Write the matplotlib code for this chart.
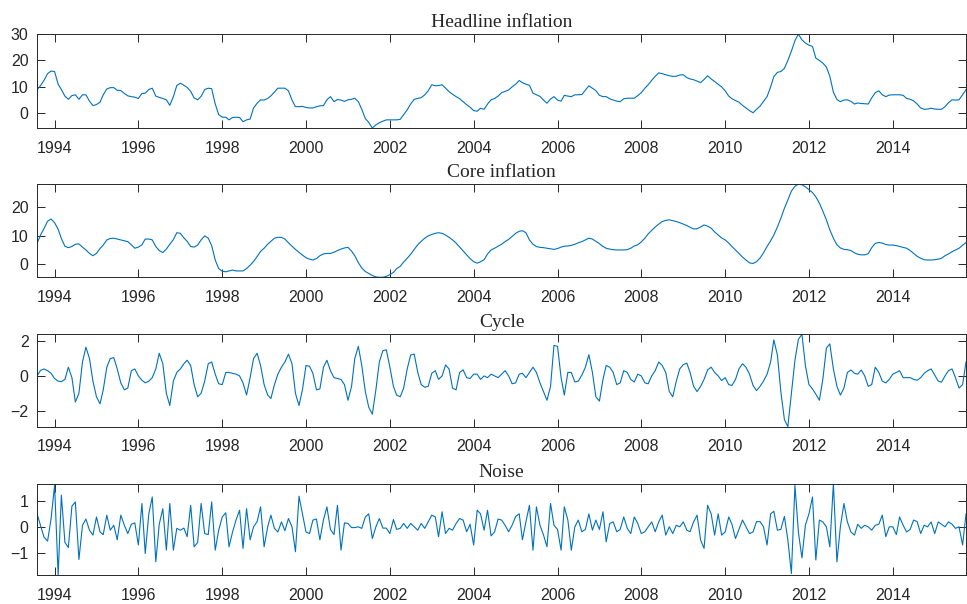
import numpy as np
import pandas as pd
import matplotlib
matplotlib.use("Agg")
import matplotlib.pyplot as plt
import matplotlib.dates as mdates

# monthly series, Aug 1993 .. Oct 2015 (267 months)
dates = pd.date_range("1993-08-01", periods=267, freq="MS")

headline = [
    8.9, 10.5, 12.5, 15.0, 16.0, 15.8, 11.0, 9.0, 6.5, 5.3,
    6.7, 7.0, 5.3, 7.0, 7.0, 4.6, 2.9, 3.3, 4.2, 7.0,
    9.2, 9.7, 9.7, 8.7, 8.6, 7.5, 6.6, 6.3, 6.1, 5.6,
    7.5, 7.6, 9.0, 9.5, 6.5, 6.0, 5.6, 5.1, 3.0, 6.3,
    10.5, 11.4, 10.6, 9.8, 8.3, 5.8, 5.1, 6.4, 9.0, 9.5,
    9.3, 3.5, -0.5, -1.5, -1.5, -2.5, -1.6, -1.5, -1.6, -3.2,
    -2.5, -2.2, 2.0, 3.8, 5.1, 5.0, 5.6, 6.6, 8.0, 9.5,
    9.5, 9.5, 8.5, 5.0, 2.5, 2.5, 2.6, 2.2, 2.0, 2.0,
    2.5, 2.8, 2.9, 5.1, 6.3, 4.4, 5.2, 5.0, 4.5, 5.1,
    5.3, 5.7, 4.4, 1.5, -2.0, -3.5, -5.6, -4.4, -3.6, -3.0,
    -2.5, -2.5, -2.5, -2.5, -2.3, -0.5, 1.3, 3.5, 5.3, 5.6,
    5.9, 7.0, 8.5, 10.8, 10.4, 10.5, 10.8, 9.5, 8.2, 7.2,
    6.3, 5.5, 4.4, 3.2, 2.3, 1.0, 0.8, 1.9, 1.5, 3.5,
    5.1, 5.6, 6.5, 7.8, 8.3, 8.8, 10.0, 11.0, 12.4, 11.6,
    11.0, 10.6, 7.6, 7.0, 6.4, 5.0, 3.8, 5.4, 6.3, 5.0,
    4.6, 6.8, 6.5, 6.3, 7.0, 7.0, 7.1, 8.8, 10.4, 9.5,
    8.6, 6.8, 6.3, 6.3, 5.5, 5.0, 4.6, 4.4, 5.5, 5.7,
    5.7, 5.7, 6.7, 7.8, 9.5, 10.8, 12.5, 14.0, 15.3, 15.0,
    14.6, 14.2, 14.0, 14.0, 14.5, 14.6, 13.5, 13.0, 12.7, 12.2,
    11.6, 12.8, 14.2, 13.0, 12.0, 11.0, 10.0, 8.5, 6.5, 5.5,
    4.8, 4.2, 3.0, 2.0, 1.0, 0.2, 1.5, 2.7, 4.5, 6.3,
    10.0, 13.9, 15.5, 15.8, 17.0, 20.0, 23.5, 27.5, 30.0, 27.8,
    26.6, 25.8, 25.3, 20.9, 20.0, 19.0, 17.5, 14.0, 8.0, 5.2,
    4.4, 5.0, 5.1, 4.5, 3.5, 3.9, 3.7, 3.6, 3.5, 5.8,
    7.8, 8.5, 7.0, 6.3, 6.9, 7.0, 7.0, 7.0, 6.8, 5.6,
    5.3, 4.7, 3.5, 2.0, 1.5, 1.6, 1.9, 1.6, 1.5, 1.5,
    2.5, 4.0, 5.1, 5.0, 5.1, 7.0, 8.9,
]

core = [
    7.3, 10.2, 12.5, 15.0, 15.8, 14.5, 12.2, 9.0, 6.3, 5.8,
    6.2, 7.0, 7.1, 6.0, 5.0, 3.8, 3.0, 3.8, 5.5, 6.7,
    8.5, 9.0, 9.1, 8.8, 8.5, 8.2, 7.9, 6.8, 5.6, 6.0,
    6.8, 8.8, 8.8, 8.5, 6.2, 4.8, 4.1, 5.3, 7.0, 8.6,
    11.0, 10.8, 9.2, 8.0, 6.2, 6.0, 6.7, 8.5, 9.9, 9.1,
    6.5, 1.5, -1.5, -2.4, -2.6, -2.3, -2.0, -2.3, -2.3, -2.3,
    -1.5, -0.3, 1.0, 2.7, 4.5, 5.6, 7.0, 8.0, 9.1, 9.4,
    9.4, 8.8, 7.5, 6.3, 5.2, 4.2, 3.2, 2.3, 1.8, 1.5,
    2.0, 3.0, 3.6, 3.8, 3.8, 4.2, 4.8, 5.3, 5.7, 5.9,
    4.6, 3.0, 0.6, -1.3, -2.5, -3.2, -3.9, -4.4, -4.5, -4.5,
    -4.2, -3.6, -2.8, -1.5, -0.7, 0.8, 2.1, 3.5, 5.2, 6.8,
    8.0, 9.1, 9.9, 10.4, 10.8, 11.0, 10.8, 10.2, 9.4, 8.5,
    7.4, 6.0, 4.6, 3.3, 2.0, 0.9, 0.4, 0.9, 1.6, 3.6,
    5.0, 5.6, 6.3, 7.0, 7.9, 8.7, 9.7, 10.8, 11.5, 11.7,
    11.0, 8.5, 7.0, 6.2, 5.9, 5.8, 5.6, 5.4, 5.2, 5.5,
    6.0, 6.3, 6.4, 6.6, 7.0, 7.5, 7.9, 8.5, 9.1, 8.8,
    8.0, 7.2, 6.2, 5.6, 5.3, 5.1, 5.0, 5.0, 5.0, 5.1,
    5.6, 6.4, 6.8, 7.8, 9.1, 10.6, 11.8, 13.0, 14.0, 14.9,
    15.3, 15.5, 15.2, 14.9, 14.5, 14.0, 13.5, 12.9, 12.3, 12.4,
    13.0, 13.7, 13.3, 12.6, 11.3, 10.2, 9.2, 8.5, 7.4, 6.2,
    5.0, 3.8, 2.5, 1.5, 0.5, 0.3, 0.9, 2.2, 4.0, 6.2,
    8.2, 10.2, 13.0, 16.0, 19.5, 22.4, 25.5, 27.2, 27.9, 27.7,
    27.0, 26.0, 25.0, 23.5, 21.3, 18.5, 15.5, 12.0, 9.1, 6.8,
    5.7, 5.2, 5.1, 4.8, 4.0, 3.5, 3.3, 3.3, 3.7, 5.8,
    7.3, 7.6, 7.4, 6.9, 6.7, 6.7, 6.5, 6.2, 5.9, 5.6,
    4.8, 3.8, 2.8, 2.1, 1.6, 1.5, 1.5, 1.6, 1.8, 2.1,
    3.0, 3.6, 4.4, 5.0, 5.6, 6.6, 7.6,
]

cycle = [
    0.0, 0.32, 0.4, 0.3, 0.15, -0.15, -0.3, -0.33, -0.2, 0.5,
    -0.1, -1.5, -1.0, 0.8, 1.65, 1.0, -0.3, -1.2, -1.6, -0.8,
    0.5, 1.0, 1.05, 0.4, -0.4, -0.8, -0.7, 0.3, 0.4, 0.0,
    -0.25, -0.4, -0.3, -0.1, 0.4, 1.3, 0.7, -1.0, -1.7, -0.3,
    0.2, 0.4, 0.7, 0.9, 0.6, -0.5, -1.2, -1.0, -0.3, 0.7,
    0.8, 0.1, -0.45, -0.5, 0.2, 0.2, 0.15, 0.1, 0.0, -0.4,
    -1.1, -0.1, 1.0, 1.3, 0.6, -0.5, -1.1, -1.3, -0.5, 0.1,
    0.5, 0.8, 1.25, 0.7, -1.0, -1.7, -0.8, 0.6, 0.55, 0.15,
    -0.8, -0.75, 0.5, 0.9, 0.3, -0.1, -0.15, -0.2, -0.5, -1.4,
    -0.6, 1.0, 1.7, 0.6, -0.9, -1.8, -2.2, -0.8, 0.8, 1.45,
    1.5, 0.5, -0.6, -1.1, -1.2, -0.7, 0.4, 1.2, 1.25, 0.2,
    -0.5, -0.65, -0.6, 0.15, 0.3, -0.2, 0.0, 0.63, 0.4, -0.7,
    -0.8, 0.2, 0.35, -0.1, -0.15, 0.1, 0.1, -0.2, 0.0, -0.1,
    0.1, 0.0, -0.1, 0.1, 0.3, 0.0, -0.45, -0.4, 0.1, 0.15,
    -0.1, 0.2, 0.5, 0.2, -0.4, -0.9, -1.4, -0.6, 1.75, 1.7,
    -0.1, -1.1, 0.2, 0.2, -0.35, -0.3, 0.05, 0.5, 1.22, 0.2,
    -1.2, -1.45, -0.2, 0.6, 0.5, 0.2, -0.5, -0.4, 0.3, 0.2,
    -0.2, -0.35, 0.1, 0.0, -0.4, -0.45, 0.0, 0.3, 0.8, 0.6,
    0.2, -0.9, -1.2, -0.3, 0.4, 0.65, 0.73, 0.2, -0.6, -0.9,
    -0.6, -0.2, 0.35, 0.5, 0.2, 0.0, -0.27, -0.1, -0.5, -0.55,
    -0.2, 0.4, 0.7, 0.5, 0.1, -0.55, -0.84, -0.6, -0.3, 0.1,
    0.8, 2.07, 1.2, -0.9, -2.5, -2.92, -1.0, 0.9, 2.1, 2.39,
    0.6, -0.5, -0.75, -1.05, -1.4, -0.2, 1.6, 1.84, 0.4, -0.6,
    -1.1, -0.7, 0.2, 0.34, 0.15, 0.1, 0.34, 0.0, -0.6, -0.5,
    0.5, 0.2, -0.3, -0.4, -0.2, 0.1, 0.2, 0.3, -0.1, -0.1,
    -0.1, -0.2, -0.25, -0.1, 0.15, 0.3, 0.4, 0.05, -0.3, -0.36,
    0.0, 0.3, 0.4, -0.1, -0.7, -0.5, 0.8,
]

noise = [
    0.5, 0.05, -0.4, -0.55, 0.3, 1.6, -1.87, 1.22, -0.6, -0.8,
    0.8, 0.96, -1.26, 0.06, 0.3, -0.13, -0.32, 0.38, -0.2, -0.3,
    0.45, -0.13, 0.06, -0.5, 0.45, 0.06, -0.26, 0.1, 0.15, -0.7,
    0.9, -1.03, 0.5, 1.15, -1.35, 0.1, 0.7, -0.9, 0.9, -0.9,
    -0.06, -0.13, -0.05, -0.38, 0.83, -0.77, -0.6, 0.9, -0.26, -0.3,
    0.96, -0.9, -0.13, 0.38, 0.54, -0.77, -0.2, 0.26, 0.64, -0.83,
    0.7, -0.5, 0.0, 0.2, 0.77, -0.77, 0.0, 0.45, -0.06, -0.2,
    0.19, -0.15, 0.32, 0.0, -0.96, 1.18, 0.5, -0.2, -0.26, 0.26,
    0.3, -0.5, 0.26, 0.77, -0.1, -0.3, 0.83, -0.9, 0.15, 0.13,
    -0.03, -0.03, 0.0, -0.06, 0.38, 0.5, -0.45, 0.0, 0.32, -0.05,
    -0.05, -0.26, 0.28, -0.1, -0.06, 0.13, -0.06, 0.13, 0.0, -0.13,
    0.13, -0.06, 0.19, 0.45, 0.38, -0.38, 0.58, -0.26, -0.06, -0.13,
    0.13, 0.32, 0.26, -0.19, 0.1, -0.7, 0.64, 0.5, -0.13, 0.64,
    -0.35, -0.2, 0.3, 0.26, 0.06, -0.19, 0.06, 0.4, 0.5, -0.5,
    0.2, 0.83, -0.9, 0.77, 0.06, -0.32, -0.77, 0.9, 0.06, -0.1,
    -0.9, 0.77, 0.26, -0.9, 0.0, 0.26, -0.19, -0.1, 0.5, -0.13,
    0.26, -0.1, 0.58, -0.58, 0.13, 0.19, -0.19, -0.1, 0.38, -0.06,
    -0.26, 0.38, 0.13, -0.26, -0.19, 0.0, 0.19, -0.19, 0.19, 0.45,
    -0.32, 0.0, -0.26, 0.06, 0.0, 0.19, -0.13, -0.19, 0.19, 0.45,
    -0.51, -0.83, 0.83, 0.5, -0.32, 0.5, -0.32, -0.2, 0.38, 0.1,
    -0.45, -0.1, 0.26, 0.0, -0.26, -0.2, 0.2, 0.2, 0.0, -0.7,
    0.5, 0.6, -0.13, -0.1, 0.4, -0.5, -1.8, 1.6, -0.2, -1.2,
    0.06, 0.5, 1.15, -1.28, 0.26, 0.19, 0.0, -0.77, 1.67, -1.35,
    0.0, 0.9, 0.19, -0.2, -0.32, 0.1, -0.06, 0.06, 0.0, -0.13,
    0.06, 0.1, 0.45, -0.38, 0.0, 0.0, -0.3, 0.38, 0.06, -0.2,
    -0.1, 0.26, 0.2, -0.26, 0.06, 0.0, 0.19, -0.26, 0.19, 0.1,
    0.0, 0.19, 0.1, -0.06, 0.0, -0.7, 0.5,
]

titles = ["Headline inflation", "Core inflation", "Cycle", "Noise"]
yticks = [[0, 10, 20, 30], [0, 10, 20], [-2, 0, 2], [-1, 0, 1]]

rects = [
    [0.0383, 0.788, 0.9607, 0.1556],
    [0.0383, 0.541, 0.9607, 0.154],
    [0.0383, 0.2935, 0.9607, 0.153],
    [0.0383, 0.0475, 0.9607, 0.152],
]

grey = "#262626"
blue = "#0072BD"

fig = plt.figure(figsize=(9.67, 6.04), dpi=100)

for series, title, yt, rect in zip([headline, core, cycle, noise], titles, yticks, rects):
    ax = fig.add_axes(rect)
    ax.plot(dates, series, color=blue, linewidth=0.8)

    # "axis tight" like matlab does it
    ax.set_xlim(dates[0], dates[-1])
    ax.set_ylim(min(series), max(series))

    ax.set_yticks(yt)
    ax.xaxis.set_major_locator(mdates.YearLocator(2))
    ax.xaxis.set_major_formatter(mdates.DateFormatter("%Y"))

    ax.tick_params(direction="in", length=6, width=0.7, colors=grey,
                   top=True, right=True, labelsize=11.5)
    ax.tick_params(axis="x", pad=9)
    ax.tick_params(axis="y", pad=6)
    for lab in ax.get_xticklabels() + ax.get_yticklabels():
        lab.set_family("Liberation Sans")
    for sp in ax.spines.values():
        sp.set_color(grey)
        sp.set_linewidth(0.7)

    ax.set_title(title, fontfamily="Liberation Serif", fontsize=14,
                 color=grey, pad=5)

fig.savefig("out.png", dpi=100)
